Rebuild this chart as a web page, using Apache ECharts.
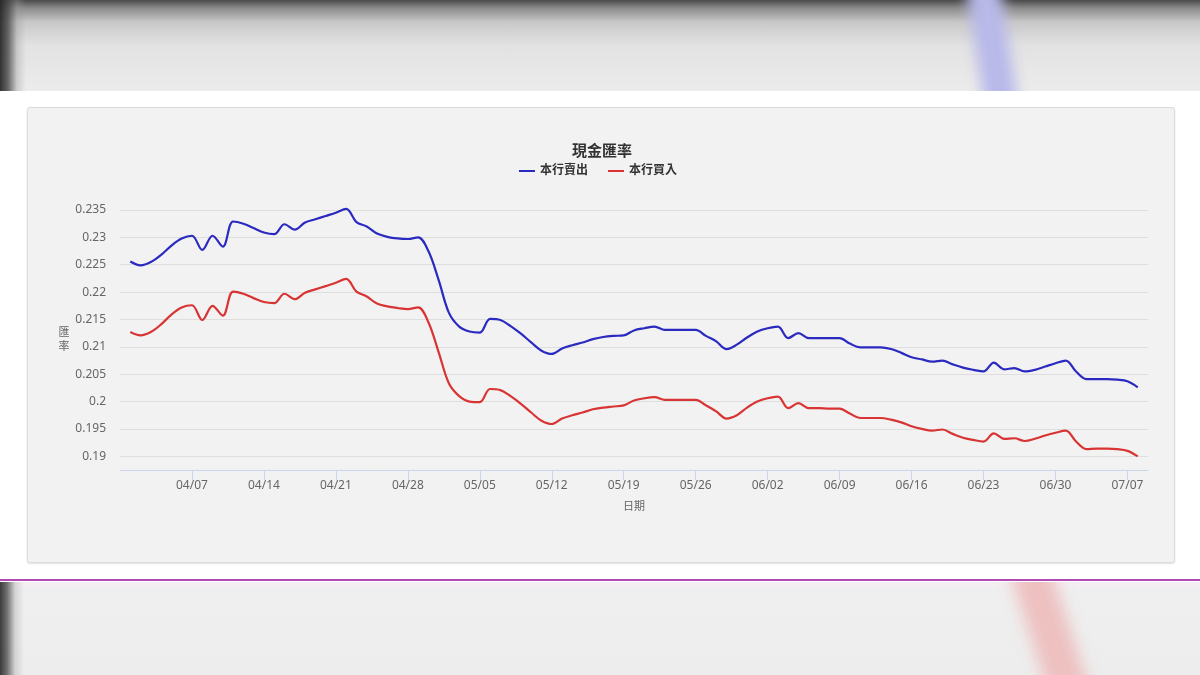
<!DOCTYPE html>
<html>
<head>
<meta charset="utf-8">
<script src="https://cdn.jsdelivr.net/npm/echarts@6/dist/echarts.min.js"></script>
<style>
html,body{margin:0;padding:0;width:1200px;height:675px;overflow:hidden;background:#fff;}
#topband{position:absolute;left:0;top:0;width:1200px;height:91px;overflow:hidden;
  background:linear-gradient(to bottom,#4a4a4a 0px,#8a8a8a 8px,#c8c8c8 22px,#e2e2e2 45px,#ececec 91px);}
#topband .edge{position:absolute;left:0;top:0;width:26px;height:100%;
  background:linear-gradient(to right,rgba(40,40,40,0.95) 0px,rgba(70,70,70,0.8) 8px,rgba(150,150,150,0.35) 17px,rgba(230,230,230,0) 26px);}
#topband .streak{position:absolute;left:975px;top:-20px;width:34px;height:130px;background:#b9b9ea;filter:blur(7px);transform:rotate(-9deg);}
#botband{position:absolute;left:0;top:582px;width:1200px;height:93px;overflow:hidden;
  background:linear-gradient(to bottom,#f4eef4 0px,#efefef 10px,#ededed 93px);}
#botband .edge{position:absolute;left:0;top:0;width:24px;height:100%;
  background:linear-gradient(to right,rgba(50,50,50,0.95) 0px,rgba(80,80,80,0.8) 7px,rgba(160,160,160,0.35) 15px,rgba(230,230,230,0) 24px);}
#botband .streak{position:absolute;left:1030px;top:-20px;width:40px;height:140px;background:#eec0c0;filter:blur(8px);transform:rotate(-18deg);}
#magenta{position:absolute;left:0;top:579px;width:1200px;height:2px;background:#b04ab4;}
#panel{position:absolute;left:27px;top:107px;width:1148px;height:456px;box-sizing:border-box;
  background:#f2f2f2;border:1px solid #dcdcdc;border-radius:3px;box-shadow:0 1px 2px rgba(0,0,0,0.12);}
#chart{position:absolute;left:0;top:0;width:1200px;height:675px;}
</style>
</head>
<body>
<div id="topband"><div class="edge"></div><div class="streak"></div></div>
<div id="panel"></div>
<div id="magenta"></div>
<div id="botband"><div class="edge"></div><div class="streak"></div></div>
<div id="chart"></div>
<script>
// Categories: every calendar day, 03/31 .. 07/09
const dates = ['03/31',
 '04/01','04/02','04/03','04/04','04/05','04/06','04/07','04/08','04/09','04/10',
 '04/11','04/12','04/13','04/14','04/15','04/16','04/17','04/18','04/19','04/20',
 '04/21','04/22','04/23','04/24','04/25','04/26','04/27','04/28','04/29','04/30',
 '05/01','05/02','05/03','05/04','05/05','05/06','05/07','05/08','05/09','05/10',
 '05/11','05/12','05/13','05/14','05/15','05/16','05/17','05/18','05/19','05/20',
 '05/21','05/22','05/23','05/24','05/25','05/26','05/27','05/28','05/29','05/30',
 '05/31','06/01','06/02','06/03','06/04','06/05','06/06','06/07','06/08','06/09',
 '06/10','06/11','06/12','06/13','06/14','06/15','06/16','06/17','06/18','06/19',
 '06/20','06/21','06/22','06/23','06/24','06/25','06/26','06/27','06/28','06/29',
 '06/30','07/01','07/02','07/03','07/04','07/05','07/06','07/07','07/08','07/09'];

// 本行賣出 (bank sells)
const sellRate = [null,
 0.2256,0.2249,0.2255,0.2268,0.2285,0.2298,0.2303,0.2277,0.2303,0.2283,
 0.2329,0.2325,0.2317,0.2309,0.2306,0.2324,0.2314,0.2327,0.2333,0.2339,
 0.2345,0.2352,0.2328,0.2320,0.2307,0.2301,0.2298,0.2297,0.2300,0.2275,
 0.2222,0.2162,0.2137,0.2128,0.2126,0.2151,0.2149,0.2138,0.2124,0.2108,
 0.2093,0.2087,0.2097,0.2103,0.2108,0.2114,0.2118,0.2120,0.2121,0.2130,
 0.2134,0.2137,0.2131,0.2131,0.2131,0.2131,0.2120,0.2110,0.2096,0.2104,
 0.2117,0.2128,0.2134,0.2137,0.2116,0.2125,0.2116,0.2116,0.2116,0.2116,
 0.2106,0.2099,0.2099,0.2099,0.2096,0.2089,0.2081,0.2077,0.2073,0.2075,
 0.2068,0.2062,0.2058,0.2055,0.2071,0.2059,0.2061,0.2055,0.2058,0.2064,
 0.2070,0.2075,0.2055,0.2041,0.2041,0.2041,0.2040,0.2037,0.2026,null];

// 本行買入 (bank buys)
const buyRate = [null,
 0.2127,0.2121,0.2127,0.2141,0.2159,0.2172,0.2176,0.2149,0.2175,0.2157,
 0.2201,0.2197,0.2189,0.2182,0.2180,0.2197,0.2187,0.2199,0.2205,0.2211,
 0.2217,0.2224,0.2201,0.2192,0.2179,0.2174,0.2171,0.2169,0.2172,0.2145,
 0.2090,0.2033,0.2010,0.2000,0.1999,0.2023,0.2021,0.2010,0.1996,0.1980,
 0.1965,0.1959,0.1969,0.1975,0.1980,0.1986,0.1989,0.1991,0.1993,0.2002,
 0.2006,0.2008,0.2003,0.2003,0.2003,0.2003,0.1993,0.1982,0.1969,0.1975,
 0.1989,0.2000,0.2006,0.2009,0.1988,0.1997,0.1988,0.1988,0.1987,0.1987,
 0.1978,0.1970,0.1970,0.1970,0.1967,0.1962,0.1955,0.1950,0.1947,0.1949,
 0.1941,0.1934,0.1930,0.1927,0.1942,0.1932,0.1933,0.1928,0.1932,0.1938,
 0.1943,0.1947,0.1927,0.1913,0.1914,0.1914,0.1913,0.1910,0.1900,null];

const xTickLabels = ['04/07','04/14','04/21','04/28','05/05','05/12','05/19','05/26','06/02','06/09','06/16','06/23','06/30','07/07'];
const yTickLabels = ['0.19','0.195','0.2','0.205','0.21','0.215','0.22','0.225','0.23','0.235'];

const seriesNames = ['本行賣出','本行買入'];
const seriesColors = ['#2a2ac0','#d93434'];

const FONT = '"Noto Sans", "Noto Sans CJK TC", sans-serif';
const chart = echarts.init(document.getElementById('chart'), null, {renderer:'canvas'});
const isTick = (i, v) => xTickLabels.indexOf(v) >= 0;

chart.setOption({
  backgroundColor: 'transparent',
  animation: false,
  title: {
    text: '現金匯率',
    left: 597, top: 139, textAlign: 'center',
    textStyle: {fontFamily: FONT, fontSize: 15, fontWeight: 'bold', color: '#333'}
  },
  legend: {
    left: 514, top: 160,
    itemWidth: 16, itemHeight: 2, itemGap: 20,
    icon: 'rect',
    textStyle: {fontFamily: FONT, fontSize: 12, fontWeight: 'bold', color: '#333'},
    data: seriesNames
  },
  grid: {left: 120, right: 52, top: 210, bottom: 205, containLabel: false},
  xAxis: {
    type: 'category',
    data: dates,
    boundaryGap: false,
    name: '日期', nameLocation: 'middle', nameGap: 31,
    nameTextStyle: {fontFamily: FONT, fontSize: 11, color: '#666'},
    axisLine: {lineStyle: {color: '#ccd6eb', width: 1}},
    axisTick: {show: true, interval: isTick, length: 10, lineStyle: {color: '#ccd6eb'}},
    axisLabel: {interval: isTick, margin: 10, fontFamily: FONT, fontSize: 12, color: '#666'},
    splitLine: {show: false}
  },
  yAxis: {
    type: 'value',
    min: 0.1875, max: 0.235, interval: 0.0025,
    name: '匯\n率', nameLocation: 'middle', nameRotate: 0, nameGap: 50,
    nameTextStyle: {fontFamily: FONT, fontSize: 11, color: '#666', lineHeight: 14},
    axisLine: {show: false},
    axisTick: {show: false},
    axisLabel: {
      margin: 14, fontFamily: FONT, fontSize: 12, color: '#666',
      formatter: v => {
        const s = String(+v.toFixed(4));
        return yTickLabels.indexOf(s) >= 0 ? s : '';
      }
    },
    splitLine: {show: true, lineStyle: {color: ['rgba(0,0,0,0)', '#dedede'], width: 1}}
  },
  series: [
    {name: seriesNames[0], type: 'line', data: sellRate, smooth: 0.35, showSymbol: false,
     symbol: 'none', lineStyle: {width: 2.2, color: seriesColors[0]}, itemStyle: {color: seriesColors[0]}, clip: false},
    {name: seriesNames[1], type: 'line', data: buyRate, smooth: 0.35, showSymbol: false,
     symbol: 'none', lineStyle: {width: 2.2, color: seriesColors[1]}, itemStyle: {color: seriesColors[1]}, clip: false}
  ]
});
</script>
</body>
</html>
